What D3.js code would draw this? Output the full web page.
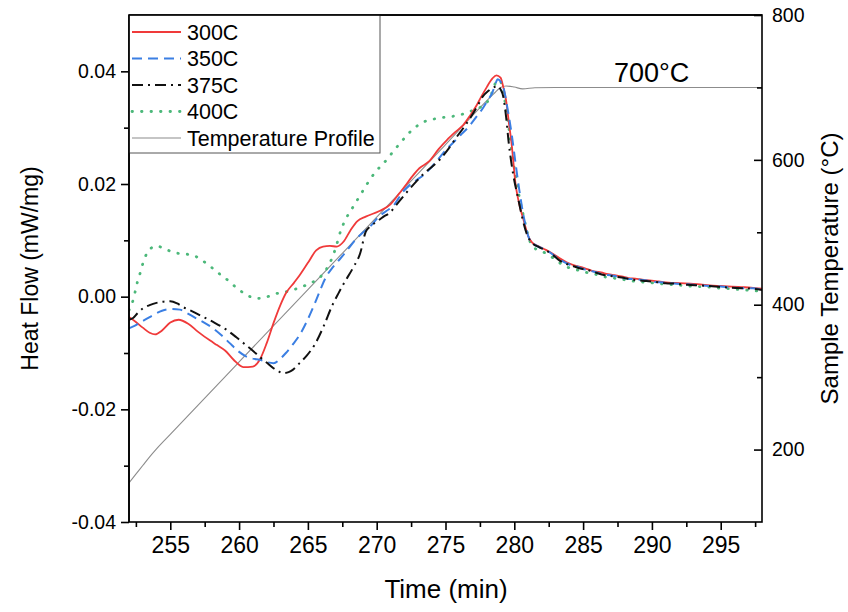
<!DOCTYPE html>
<html>
<head>
<meta charset="utf-8">
<script src="https://cdn.jsdelivr.net/npm/d3@7"></script>
<style>
  body { margin: 0; background: #fff; }
  text { font-family: "Liberation Sans", Arial, sans-serif; fill: #000; }
</style>
</head>
<body>
<script>
var w = 848; // Width of the page
var h = 612; // Height of the page
var plotL = 129, plotR = 762, plotT = 15, plotB = 522; // plot box

// Heat flow series (time in min, heat flow in mW/mg)
var t300 = [252.0, 252.5, 253.0, 253.5, 253.9, 254.4, 255.0, 255.6, 256.3, 257.0, 257.9, 258.4, 259.0, 259.6, 260.3, 261.0, 261.5, 262.0, 262.5, 263.0, 263.4, 264.0, 264.4, 265.0, 265.6, 266.1, 266.6, 267.1, 267.6, 268.1, 268.6, 269.2, 270.2, 271.0, 271.6, 272.2, 272.6, 273.1, 273.8, 274.5, 275.1, 275.7, 276.3, 276.8, 277.2, 277.6, 278.0, 278.4, 278.7, 279.0, 279.2, 279.4, 279.6, 279.8, 280.1, 280.4, 280.7, 281.0, 281.3, 281.8, 282.3, 282.8, 283.3, 283.8, 284.3, 284.8, 285.3, 285.8, 286.3, 286.8, 287.3, 287.8, 288.3, 288.8, 289.3, 289.8, 290.5, 291.2, 292.0, 292.8, 293.5, 294.2, 295.0, 295.8, 296.5, 297.2, 298.0];
var v300 = [-0.0036, -0.0045, -0.0055, -0.0064, -0.0067, -0.0060, -0.0046, -0.0041, -0.0048, -0.0062, -0.0078, -0.0086, -0.0096, -0.0112, -0.0125, -0.0124, -0.0112, -0.0083, -0.0047, -0.0015, 0.0006, 0.0025, 0.0038, 0.0060, 0.0082, 0.0089, 0.0090, 0.0089, 0.0098, 0.0118, 0.0134, 0.0142, 0.0152, 0.0164, 0.0182, 0.0201, 0.0214, 0.0228, 0.0240, 0.0262, 0.0278, 0.0292, 0.0305, 0.0322, 0.0337, 0.0355, 0.0372, 0.0387, 0.0393, 0.0389, 0.0372, 0.0349, 0.0310, 0.0272, 0.0198, 0.0160, 0.0134, 0.0108, 0.0096, 0.0089, 0.0083, 0.0076, 0.0068, 0.0061, 0.0056, 0.0053, 0.0049, 0.0045, 0.0043, 0.0040, 0.0038, 0.0036, 0.0033, 0.0032, 0.0030, 0.0029, 0.0027, 0.0025, 0.0024, 0.0023, 0.0022, 0.0020, 0.0019, 0.0018, 0.0017, 0.0016, 0.0014];

var t350 = [252.0, 252.4, 252.8, 253.3, 253.8, 254.4, 255.0, 255.7, 256.2, 256.7, 257.4, 258.1, 258.7, 259.3, 259.9, 260.5, 261.0, 261.5, 262.0, 262.5, 263.0, 263.4, 263.9, 264.4, 264.9, 265.4, 265.9, 266.3, 266.8, 267.3, 267.9, 268.5, 269.0, 269.5, 270.2, 270.7, 271.2, 271.9, 272.4, 272.9, 273.4, 273.8, 274.5, 275.0, 275.5, 276.1, 276.7, 277.2, 277.7, 278.1, 278.4, 278.6, 278.8, 279.0, 279.2, 279.5, 279.8, 280.1, 280.4, 280.7, 281.1, 281.5, 282.0, 282.5, 283.0, 283.5, 284.0, 284.5, 285.0, 285.5, 286.0, 286.5, 287.0, 287.6, 288.2, 288.8, 289.5, 290.2, 291.0, 291.8, 292.6, 293.4, 294.2, 295.0, 295.8, 296.6, 297.3, 298.0];
var v350 = [-0.0056, -0.0052, -0.0046, -0.0039, -0.0032, -0.0025, -0.0022, -0.0023, -0.0029, -0.0036, -0.0045, -0.0056, -0.0068, -0.0082, -0.0096, -0.0106, -0.0110, -0.0112, -0.0116, -0.0118, -0.0110, -0.0100, -0.0085, -0.0068, -0.0045, -0.0018, 0.0012, 0.0034, 0.0052, 0.0066, 0.0084, 0.0102, 0.0114, 0.0124, 0.0143, 0.0152, 0.0161, 0.0186, 0.0198, 0.0207, 0.0216, 0.0225, 0.0245, 0.0260, 0.0272, 0.0287, 0.0302, 0.0318, 0.0334, 0.0350, 0.0362, 0.0376, 0.0386, 0.0382, 0.0372, 0.0335, 0.0290, 0.0235, 0.0183, 0.0140, 0.0102, 0.0092, 0.0086, 0.0080, 0.0071, 0.0063, 0.0057, 0.0054, 0.0049, 0.0046, 0.0043, 0.0039, 0.0038, 0.0035, 0.0032, 0.0031, 0.0029, 0.0026, 0.0025, 0.0023, 0.0022, 0.0020, 0.0019, 0.0018, 0.0016, 0.0015, 0.0015, 0.0012];

var t375 = [252.0, 252.3, 252.6, 253.0, 253.5, 254.0, 254.5, 255.0, 255.5, 255.9, 256.6, 257.4, 258.2, 259.1, 259.8, 260.5, 261.0, 261.5, 262.0, 262.5, 262.9, 263.2, 263.6, 263.9, 264.4, 264.9, 265.5, 266.1, 266.8, 267.2, 267.6, 268.3, 268.8, 269.2, 269.5, 270.0, 270.5, 271.0, 271.4, 272.1, 272.9, 273.4, 274.0, 274.6, 275.2, 275.8, 276.4, 277.0, 277.4, 277.7, 278.1, 278.4, 278.8, 279.0, 279.2, 279.4, 279.6, 279.9, 280.3, 280.6, 280.9, 281.3, 281.8, 282.3, 282.8, 283.3, 283.8, 284.3, 284.8, 285.4, 286.0, 286.6, 287.2, 287.8, 288.4, 289.0, 289.6, 290.3, 291.0, 291.8, 292.6, 293.4, 294.2, 295.0, 295.8, 296.6, 297.3, 298.0];
var v375 = [-0.0041, -0.0038, -0.0030, -0.0021, -0.0015, -0.0011, -0.0009, -0.0008, -0.0012, -0.0018, -0.0026, -0.0036, -0.0046, -0.0059, -0.0072, -0.0086, -0.0096, -0.0107, -0.0117, -0.0127, -0.0133, -0.0136, -0.0134, -0.0130, -0.0118, -0.0105, -0.0085, -0.0055, -0.0014, 0.0005, 0.0023, 0.0052, 0.0077, 0.0115, 0.0124, 0.0133, 0.0142, 0.0150, 0.0162, 0.0183, 0.0205, 0.0218, 0.0230, 0.0244, 0.0262, 0.0283, 0.0303, 0.0325, 0.0342, 0.0355, 0.0365, 0.0370, 0.0374, 0.0368, 0.0355, 0.0320, 0.0272, 0.0220, 0.0172, 0.0138, 0.0112, 0.0095, 0.0088, 0.0082, 0.0074, 0.0064, 0.0058, 0.0054, 0.0050, 0.0047, 0.0042, 0.0038, 0.0036, 0.0034, 0.0031, 0.0029, 0.0028, 0.0026, 0.0024, 0.0023, 0.0021, 0.0020, 0.0019, 0.0017, 0.0016, 0.0015, 0.0014, 0.0012];

var t400 = [252.0, 252.3, 252.6, 252.8, 253.1, 253.3, 253.6, 254.0, 254.6, 255.3, 256.0, 256.7, 257.4, 258.1, 258.7, 259.3, 259.8, 260.3, 260.8, 261.3, 261.8, 262.3, 262.8, 263.3, 263.9, 264.4, 265.0, 265.5, 265.9, 266.3, 266.6, 267.0, 267.4, 267.8, 268.3, 268.8, 269.3, 269.8, 270.3, 270.8, 271.2, 271.8, 272.2, 272.6, 273.1, 273.6, 274.1, 274.8, 275.5, 276.1, 276.7, 277.3, 277.8, 278.2, 278.5, 278.7, 278.9, 279.1, 279.3, 279.6, 279.9, 280.2, 280.4, 280.7, 280.9, 281.3, 281.8, 282.3, 282.8, 283.3, 283.8, 284.3, 284.8, 285.4, 286.0, 286.6, 287.2, 287.8, 288.4, 289.0, 289.6, 290.3, 291.0, 291.8, 292.6, 293.4, 294.2, 295.0, 295.8, 296.6, 297.3, 298.0];
var v400 = [-0.0024, -0.0006, 0.0025, 0.0041, 0.0066, 0.0077, 0.0086, 0.0090, 0.0085, 0.0078, 0.0076, 0.0073, 0.0063, 0.0050, 0.0038, 0.0027, 0.0016, 0.0007, 0.0000, -0.0003, -0.0002, 0.0002, 0.0006, 0.0008, 0.0012, 0.0016, 0.0022, 0.0028, 0.0035, 0.0047, 0.0060, 0.0085, 0.0118, 0.0140, 0.0160, 0.0180, 0.0200, 0.0218, 0.0232, 0.0245, 0.0258, 0.0275, 0.0287, 0.0296, 0.0306, 0.0312, 0.0315, 0.0318, 0.0320, 0.0323, 0.0328, 0.0334, 0.0340, 0.0352, 0.0370, 0.0383, 0.0384, 0.0376, 0.0350, 0.0300, 0.0243, 0.0200, 0.0172, 0.0140, 0.0118, 0.0090, 0.0082, 0.0077, 0.0069, 0.0060, 0.0053, 0.0049, 0.0046, 0.0042, 0.0039, 0.0035, 0.0033, 0.0031, 0.0028, 0.0027, 0.0025, 0.0024, 0.0022, 0.0021, 0.0019, 0.0018, 0.0017, 0.0015, 0.0014, 0.0012, 0.0011, 0.0009];

// Temperature profile (time in min, temperature in C)
var tProfile = [252.0, 252.5, 253.0, 253.5, 254.0, 255.0, 260.0, 265.0, 270.0, 275.0, 278.5, 279.0, 279.4, 280.0, 280.6, 281.5, 283.0, 298.0];
var tempProfile = [154, 166, 178, 190, 201, 221, 321, 421, 521, 621, 691, 700, 702, 700.5, 698, 699.5, 700, 700];

// Tick values and labels
var xTicks = [255, 260, 265, 270, 275, 280, 285, 290, 295];
var xMinor = [252.5, 257.5, 262.5, 267.5, 272.5, 277.5, 282.5, 287.5, 292.5, 297.5];
var yTicks = [0.04, 0.02, 0.00, -0.02, -0.04];
var yLabels = ["0.04", "0.02", "0.00", "-0.02", "-0.04"];
var yMinor = [0.03, 0.01, -0.01, -0.03];
var y2Ticks = [800, 600, 400, 200];
var y2Minor = [700, 500, 300];

var legendNames = ["300C", "350C", "375C", "400C", "Temperature Profile"];

// Scales
var xScale = d3.scaleLinear().domain([252, 298]).range([plotL, plotR]);
var yScale = d3.scaleLinear().domain([-0.04, 0.05]).range([plotB, plotT]);
var y2Scale = d3.scaleLinear().domain([100, 800]).range([plotB, plotT]);

var svg = d3.select("body").append("svg")
    .attr("width", w)
    .attr("height", h);

svg.append("defs").append("clipPath").attr("id", "clip")
    .append("rect")
    .attr("x", plotL).attr("y", plotT)
    .attr("width", plotR - plotL).attr("height", plotB - plotT);

// Series styles
var series = [
    { t: t300, v: v300, color: "#f03a3a", dash: null, width: 1.8 },
    { t: t350, v: v350, color: "#3b7fe3", dash: "10,6", width: 2 },
    { t: t375, v: v375, color: "#111111", dash: "11,5,2,5", width: 2 },
    { t: t400, v: v400, color: "#4cb87a", dash: "0.5,9", width: 2.8 }
];

var lineHF = d3.line()
    .x(function(d) { return xScale(d[0]); })
    .y(function(d) { return yScale(d[1]); })
    .curve(d3.curveMonotoneX);

var lineT = d3.line()
    .x(function(d) { return xScale(d[0]); })
    .y(function(d) { return y2Scale(d[1]); })
    .curve(d3.curveMonotoneX);

var plot = svg.append("g").attr("clip-path", "url(#clip)");

// Temperature profile
plot.append("path")
    .datum(d3.zip(tProfile, tempProfile))
    .attr("fill", "none")
    .attr("stroke", "#8c8c8c")
    .attr("stroke-width", 1.1)
    .attr("d", lineT);

// Heat flow curves (draw 400C first so the others sit on top)
[3, 0, 1, 2].forEach(function(i) {
    var s = series[i];
    plot.append("path")
        .datum(d3.zip(s.t, s.v))
        .attr("fill", "none")
        .attr("stroke", s.color)
        .attr("stroke-width", s.width)
        .attr("stroke-dasharray", s.dash)
        .attr("stroke-linecap", i === 3 ? "round" : "butt")
        .attr("d", lineHF);
});

// Axes
var xAxis = d3.axisBottom(xScale).tickValues(xTicks).tickSize(8).tickPadding(7)
    .tickFormat(d3.format("d"));
var xAxisMinor = d3.axisBottom(xScale).tickValues(xMinor).tickSize(5).tickFormat("");
var yAxis = d3.axisLeft(yScale).tickValues(yTicks).tickSize(8).tickPadding(5)
    .tickFormat(function(d, i) { return yLabels[i]; });
var yAxisMinor = d3.axisLeft(yScale).tickValues(yMinor).tickSize(5).tickFormat("");
var y2Axis = d3.axisRight(y2Scale).tickValues(y2Ticks).tickSize(-8).tickPadding(10)
    .tickFormat(d3.format("d"));
var y2AxisMinor = d3.axisRight(y2Scale).tickValues(y2Minor).tickSize(-5).tickFormat("");

function styleAxis(g, size, family) {
    g.select(".domain").remove();
    g.selectAll(".tick line").attr("stroke", "#000").attr("stroke-width", 1.6);
    g.selectAll(".tick text").style("font-size", size + "px")
        .style("font-family", family || "'Liberation Sans', Arial, sans-serif");
}

var narrow = "'Liberation Sans Narrow', 'Arial Narrow', 'Liberation Sans', sans-serif";

svg.append("g").attr("transform", "translate(0," + plotB + ")").call(xAxis).call(styleAxis, 23, narrow);
svg.append("g").attr("transform", "translate(0," + plotB + ")").call(xAxisMinor).call(styleAxis, 18);
svg.append("g").attr("transform", "translate(" + plotL + ",0)").call(yAxis).call(styleAxis, 19.5);
svg.append("g").attr("transform", "translate(" + plotL + ",0)").call(yAxisMinor).call(styleAxis, 18);
svg.append("g").attr("transform", "translate(" + plotR + ",0)").call(y2Axis).call(styleAxis, 19.5);
svg.append("g").attr("transform", "translate(" + plotR + ",0)").call(y2AxisMinor).call(styleAxis, 18);

// Frame
svg.append("rect")
    .attr("x", plotL).attr("y", plotT)
    .attr("width", plotR - plotL).attr("height", plotB - plotT)
    .attr("fill", "none")
    .attr("stroke", "#000")
    .attr("stroke-width", 1.6);

// Legend
var legend = svg.append("g");
legend.append("rect")
    .attr("x", plotL).attr("y", plotT)
    .attr("width", 380 - plotL).attr("height", 153 - plotT)
    .attr("fill", "#fff")
    .attr("stroke", "#555")
    .attr("stroke-width", 1);

legendNames.forEach(function(name, i) {
    var yy = 32 + i * 26.5;
    var s = series[i];
    legend.append("line")
        .attr("x1", 132).attr("x2", 181)
        .attr("y1", yy).attr("y2", yy)
        .attr("stroke", s ? s.color : "#8c8c8c")
        .attr("stroke-width", s ? s.width : 1.1)
        .attr("stroke-dasharray", s ? s.dash : null)
        .attr("stroke-linecap", i === 3 ? "round" : "butt");
    legend.append("text")
        .attr("x", 187).attr("y", yy + 7.5)
        .style("font-size", "21.5px")
        .text(name);
});

// Top and left frame lines over legend
svg.append("line")
    .attr("x1", plotL).attr("x2", plotR)
    .attr("y1", plotT).attr("y2", plotT)
    .attr("stroke", "#000").attr("stroke-width", 1.6);
svg.append("line")
    .attr("x1", plotL).attr("x2", plotL)
    .attr("y1", plotT).attr("y2", plotB)
    .attr("stroke", "#000").attr("stroke-width", 1.6);

// Annotation
svg.append("text")
    .attr("x", 614).attr("y", 82)
    .style("font-size", "27px")
    .text("700°C");

// Axis titles
svg.append("text")
    .attr("text-anchor", "middle")
    .attr("x", 446).attr("y", 598)
    .style("font-size", "26px")
    .text("Time (min)");

svg.append("text")
    .attr("text-anchor", "middle")
    .attr("transform", "translate(38," + ((plotT + plotB) / 2) + ") rotate(-90)")
    .style("font-size", "23px")
    .text("Heat Flow (mW/mg)");

svg.append("text")
    .attr("text-anchor", "middle")
    .attr("transform", "translate(838," + ((plotT + plotB) / 2) + ") rotate(-90)")
    .style("font-size", "24px")
    .text("Sample Temperature (°C)");
</script>
</body>
</html>
